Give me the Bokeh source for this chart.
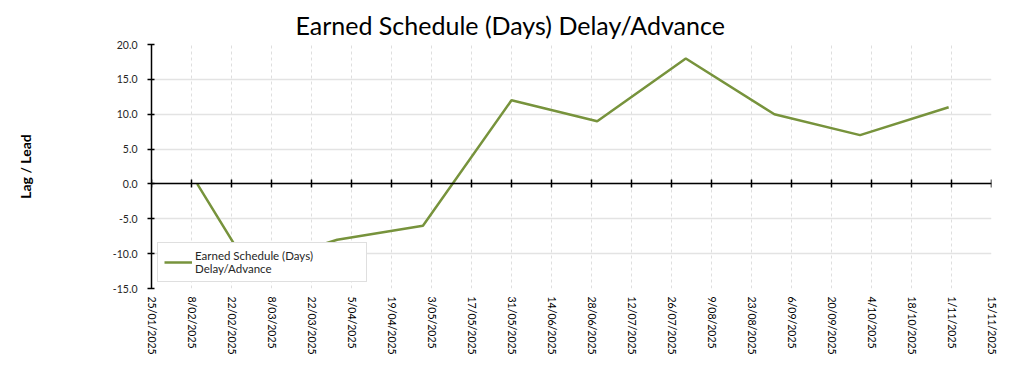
import pandas as pd
from bokeh.plotting import figure
from bokeh.models import (Range1d, FixedTicker, DatetimeAxis, NumeralTickFormatter,
                          Legend, LegendItem, ColumnDataSource)
from bokeh.embed import file_html
from bokeh.resources import INLINE

# ---------------- data ----------------
status_dates = ["2025-02-10", "2025-02-28", "2025-03-31", "2025-04-30", "2025-05-31",
                "2025-06-30", "2025-07-31", "2025-08-31", "2025-09-30", "2025-10-31"]
es_days = [0.0, -12.0, -8.0, -6.0, 12.0, 9.0, 18.0, 10.0, 7.0, 11.0]

x_tick_labels = ["25/01/2025", "8/02/2025", "22/02/2025", "8/03/2025", "22/03/2025",
                 "5/04/2025", "19/04/2025", "3/05/2025", "17/05/2025", "31/05/2025",
                 "14/06/2025", "28/06/2025", "12/07/2025", "26/07/2025", "9/08/2025",
                 "23/08/2025", "6/09/2025", "20/09/2025", "4/10/2025", "18/10/2025",
                 "1/11/2025", "15/11/2025"]
y_ticks = [-15.0, -10.0, -5.0, 0.0, 5.0, 10.0, 15.0, 20.0]

title_text = "Earned Schedule (Days) Delay/Advance"
y_label = "Lag / Lead"
series_name = "Earned Schedule (Days)\nDelay/Advance"

# ---------------- derived ----------------
tick_dt = pd.to_datetime(x_tick_labels, format="%d/%m/%Y")
tick_ms = [int(t.timestamp() * 1000) for t in tick_dt]
label_map = {ms: lab for ms, lab in zip(tick_ms, x_tick_labels)}

src = ColumnDataSource(data=dict(date=pd.to_datetime(status_dates), es=es_days))

FONT = "Lato"
LINE = "#77933c"

p = figure(width=1008, height=357, x_axis_type="datetime",
           x_range=Range1d(tick_ms[0], tick_ms[-1]),
           y_range=Range1d(y_ticks[0], y_ticks[-1]),
           output_backend="svg", toolbar_location=None,
           min_border_left=151, min_border_right=17,
           min_border_top=44, min_border_bottom=60)
p.outline_line_color = None
p.background_fill_color = "white"
p.border_fill_color = "white"

# title
p.title.text = title_text
p.title.align = "left"
p.title.offset = 144
p.title.text_font = FONT
p.title.text_font_size = "25px"
p.title.text_font_style = "normal"
p.title.text_color = "black"

# bottom x axis: vertical date labels only
xa = p.xaxis[0]
xa.ticker = FixedTicker(ticks=tick_ms)
xa.major_label_overrides = label_map
xa.major_label_orientation = "vertical"
xa.major_label_text_font = FONT
xa.major_label_text_font_size = "10.5px"
xa.major_label_text_color = "black"
xa.major_label_standoff = 8
xa.axis_line_color = None
xa.major_tick_line_color = None
xa.major_tick_out = 0
xa.major_tick_in = 0
xa.minor_tick_line_color = None

# zero line axis with crossing ticks
zero_axis = DatetimeAxis(fixed_location=0, ticker=FixedTicker(ticks=tick_ms),
                         major_label_overrides={ms: "" for ms in tick_ms},
                         major_label_text_font_size="0px", major_label_standoff=0,
                         axis_line_color="black", axis_line_width=1.5,
                         major_tick_line_color="black", major_tick_line_width=1.5,
                         major_tick_in=4, major_tick_out=4,
                         minor_tick_line_color=None)
p.add_layout(zero_axis, "above")

# y axis
ya = p.yaxis[0]
ya.ticker = FixedTicker(ticks=y_ticks)
ya.formatter = NumeralTickFormatter(format="0.0")
ya.axis_line_color = "black"
ya.axis_line_width = 1.5
ya.major_tick_line_color = "black"
ya.major_tick_line_width = 1.5
ya.major_tick_in = 3
ya.major_tick_out = 4
ya.minor_tick_line_color = None
ya.major_label_text_font = FONT
ya.major_label_text_font_size = "10.5px"
ya.major_label_text_color = "#262626"
ya.major_label_standoff = 10
ya.axis_label = y_label
ya.axis_label_text_font = FONT
ya.axis_label_text_font_size = "14px"
ya.axis_label_text_font_style = "bold"
ya.axis_label_text_color = "black"
ya.axis_label_standoff = 76

# grids
p.xgrid.ticker = FixedTicker(ticks=tick_ms)
p.xgrid.grid_line_color = "#dedede"
p.xgrid.grid_line_dash = "3 3"
p.xgrid.grid_line_width = 1
p.ygrid.ticker = FixedTicker(ticks=y_ticks)
p.ygrid.grid_line_color = "#e3e3e3"
p.ygrid.grid_line_width = 1.5

# series
r = p.line(x="date", y="es", source=src, line_color=LINE, line_width=2.5)

legend = Legend(items=[LegendItem(label=series_name, renderers=[r])],
                location=(6, 6), margin=0, padding=6, spacing=0,
                border_line_color="#bfbfbf", border_line_width=1,
                background_fill_color="white", background_fill_alpha=1,
                label_text_font=FONT, label_text_font_size="11.5px",
                label_text_color="#262626",
                glyph_width=28, label_standoff=3, label_width=165)
p.add_layout(legend, "center")

open("out.html", "w").write(file_html(p, INLINE))
